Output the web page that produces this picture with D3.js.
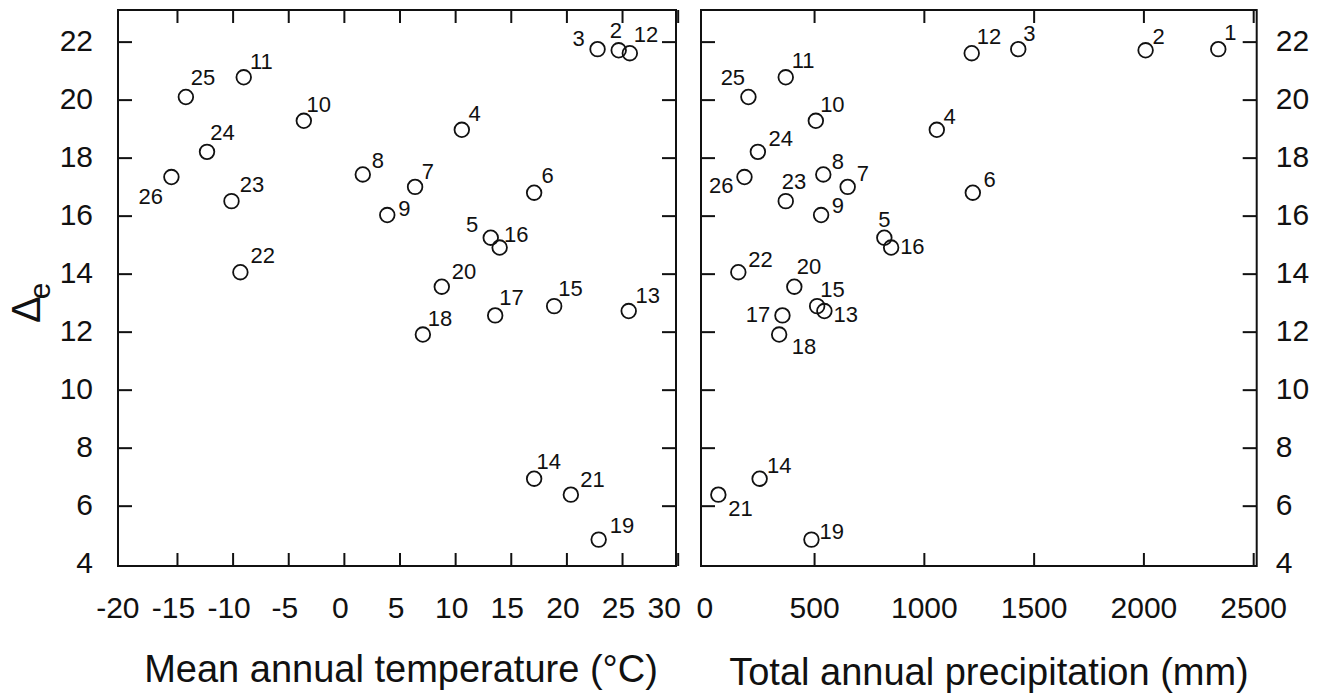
<!DOCTYPE html>
<html>
<head>
<meta charset="utf-8">
<script src="https://cdn.jsdelivr.net/npm/d3@7"></script>
<style>
  html, body { margin: 0; padding: 0; background: #fff; }
  svg { display: block; font-family: "Liberation Sans", Arial, Helvetica, sans-serif; }
  .tick line { stroke: #111; stroke-width: 2; }
  .domain { display: none; }
</style>
</head>
<body>
<svg id="chart" width="1325" height="694"></svg>
<script>
// Station numbers and their carbon isotope discrimination values
const stationIds = [1, 2, 3, 4, 5, 6, 7, 8, 9, 10, 11, 12, 13, 14, 15, 16, 17, 18, 19, 20, 21, 22, 23, 24, 25, 26];
const deltaE = [21.74, 21.7, 21.74, 18.96, 15.24, 16.79, 16.99, 17.42, 16.02, 19.27, 20.77, 21.6, 12.71,
                6.93, 12.88, 14.9, 12.56, 11.9, 4.83, 13.55, 6.38, 14.05, 16.5, 18.2, 20.09, 17.33];
// Mean annual temperature (°C); station 1 has no temperature record
const meanTemp = [null, 24.7, 22.8, 10.6, 13.2, 17.1, 6.4, 1.7, 3.9, -3.6, -9.0, 25.7, 25.6,
                  17.1, 18.9, 14.0, 13.6, 7.1, 22.9, 8.8, 20.4, -9.3, -10.1, -12.3, -14.2, -15.5];
// Total annual precipitation (mm)
const annualPrecip = [2341, 2010, 1430, 1059, 820, 1223, 653, 542, 532, 508, 371, 1218, 547,
                      252, 514, 851, 356, 341, 488, 410, 64, 155, 371, 244, 201, 183];

const yTicks = [4, 6, 8, 10, 12, 14, 16, 18, 20, 22];
const tempTicks = [-20, -15, -10, -5, 0, 5, 10, 15, 20, 25, 30];
const precipTicks = [0, 500, 1000, 1500, 2000, 2500];

// Station label placement around each marker: [dx, dy, anchor]
const tempLabelLayout = {
  2: [-9, -12.7, "start"], 3: [-12.7, -3.3, "end"], 4: [6.6, -8.3], 5: [-12.4, -5.6, "end"],
  6: [7.4, -10], 7: [6.7, -7.7], 8: [9, -6.7], 9: [11, 1], 10: [2.7, -8.4], 11: [6.3, -8.4],
  12: [4, -11.3], 13: [6.7, -8.3], 14: [2.4, -10], 15: [4, -10], 16: [4.3, -6], 17: [4, -10.7],
  18: [5, -8.3], 19: [11, -6.7], 20: [10, -7.4], 21: [9.3, -7.7], 22: [10, -9.4], 23: [8.3, -9.6],
  24: [3.3, -11.6], 25: [5, -12.3], 26: [-8.4, 26.6, "end"]
};
const precipLabelLayout = {
  1: [6, -9], 2: [7, -6.6], 3: [5, -8.3], 4: [6.6, -6], 5: [0, -11, "middle"], 6: [10.6, -5.6],
  7: [9, -6], 8: [8.4, -5.7], 9: [10.7, -1.7], 10: [4.3, -8.3], 11: [6, -9.4], 12: [5, -9.4],
  13: [9, 11], 14: [7.3, -6], 15: [3, -9], 16: [9, 6.7], 17: [-12.3, 6.7, "end"], 18: [12.7, 19],
  19: [8, -1], 20: [2.4, -12.7], 21: [10, 21.7], 22: [10, -5], 23: [-4, -11.7],
  24: [10.6, -5.7], 25: [-3.3, -11.7, "end"], 26: [-11, 16, "end"]
};

const svg = d3.select("#chart");
const plotTop = 10, plotBottom = 566;
const plainNumber = d => String(d);

const y = d3.scaleLinear().domain([3.92, 23.09]).range([plotBottom, plotTop]);

const panels = [
  {
    x: d3.scaleLinear().domain([-20.3, 29.85]).range([118, 676]),
    ticks: tempTicks, layout: tempLabelLayout,
    title: "Mean annual temperature (°C)", titleX: 401, titleY: 682,
    yLabels: "left", tickDx: -4
  },
  {
    x: d3.scaleLinear().domain([-15, 2516]).range([701, 1256.7]),
    ticks: precipTicks, layout: precipLabelLayout,
    title: "Total annual precipitation (mm)", titleX: 989, titleY: 685,
    yLabels: "right", tickDx: 0
  }
];

const points = stationIds.map((id, i) => ({ id, de: deltaE[i], t: meanTemp[i], p: annualPrecip[i] }));

panels.forEach((panel, pi) => {
  const x = panel.x;
  const [x0, x1] = x.range();
  const g = svg.append("g");

  // bottom axis with labelled ticks pointing inward
  const bottomAxis = g.append("g")
    .attr("transform", `translate(0,${plotBottom})`)
    .call(d3.axisBottom(x).tickValues(panel.ticks).tickFormat(plainNumber)
      .tickSizeInner(-13).tickSizeOuter(0).tickPadding(31));
  bottomAxis.selectAll("text")
    .attr("font-size", 30).attr("fill", "#111")
    .attr("font-family", "Liberation Sans, Arial, sans-serif")
    .attr("dx", d => (pi === 0 && d === 30) ? -14 : panel.tickDx);

  // top axis, ticks only
  g.append("g")
    .attr("transform", `translate(0,${plotTop})`)
    .call(d3.axisTop(x).tickValues(panel.ticks).tickSizeInner(-13).tickSizeOuter(0).tickFormat(""));

  // left and right axes
  const leftAxis = g.append("g")
    .attr("transform", `translate(${x0},0)`)
    .call(d3.axisLeft(y).tickValues(yTicks).tickSizeInner(-14).tickSizeOuter(0).tickPadding(25)
      .tickFormat(panel.yLabels === "left" ? plainNumber : ""));
  const rightAxis = g.append("g")
    .attr("transform", `translate(${x1},0)`)
    .call(d3.axisRight(y).tickValues(yTicks).tickSizeInner(-14).tickSizeOuter(0).tickPadding(19)
      .tickFormat(panel.yLabels === "right" ? plainNumber : ""));
  [leftAxis, rightAxis].forEach(a => a.selectAll("text")
    .attr("font-size", 30).attr("fill", "#111")
    .attr("font-family", "Liberation Sans, Arial, sans-serif")
    .attr("dy", "0.29em"));

  // hide ticks that fall exactly on the frame
  g.selectAll(".tick").filter(d => d === 4 || d === -20 || (d === 0 && pi === 1))
    .select("line").attr("stroke-opacity", 0);

  // panel frame
  g.append("rect")
    .attr("x", x0).attr("y", plotTop)
    .attr("width", x1 - x0).attr("height", plotBottom - plotTop)
    .attr("fill", "none").attr("stroke", "#111").attr("stroke-width", 2);

  // stations
  const data = points.filter(d => (pi === 0 ? d.t : d.p) != null);
  const xv = d => x(pi === 0 ? d.t : d.p);

  g.selectAll("circle.pt").data(data).join("circle")
    .attr("class", "pt")
    .attr("cx", xv).attr("cy", d => y(d.de))
    .attr("r", 7.3)
    .attr("fill", "none").attr("stroke", "#111").attr("stroke-width", 1.8);

  g.selectAll("text.lab").data(data).join("text")
    .attr("class", "lab")
    .attr("x", d => xv(d) + panel.layout[d.id][0])
    .attr("y", d => y(d.de) + panel.layout[d.id][1])
    .attr("text-anchor", d => panel.layout[d.id][2] || "start")
    .attr("font-size", 22).attr("fill", "#111")
    .text(d => d.id);

  // axis title
  svg.append("text")
    .attr("x", panel.titleX).attr("y", panel.titleY)
    .attr("text-anchor", "middle")
    .attr("font-size", 38).attr("fill", "#111")
    .text(panel.title);
});

// y axis title: Δ with subscript e
const yTitle = svg.append("text")
  .attr("transform", "translate(40,323) rotate(-90)")
  .attr("fill", "#111");
yTitle.append("tspan").attr("font-size", 40).text("Δ");
yTitle.append("tspan").attr("font-size", 30).attr("dy", 10).attr("dx", -3).text("e");
</script>
</body>
</html>
